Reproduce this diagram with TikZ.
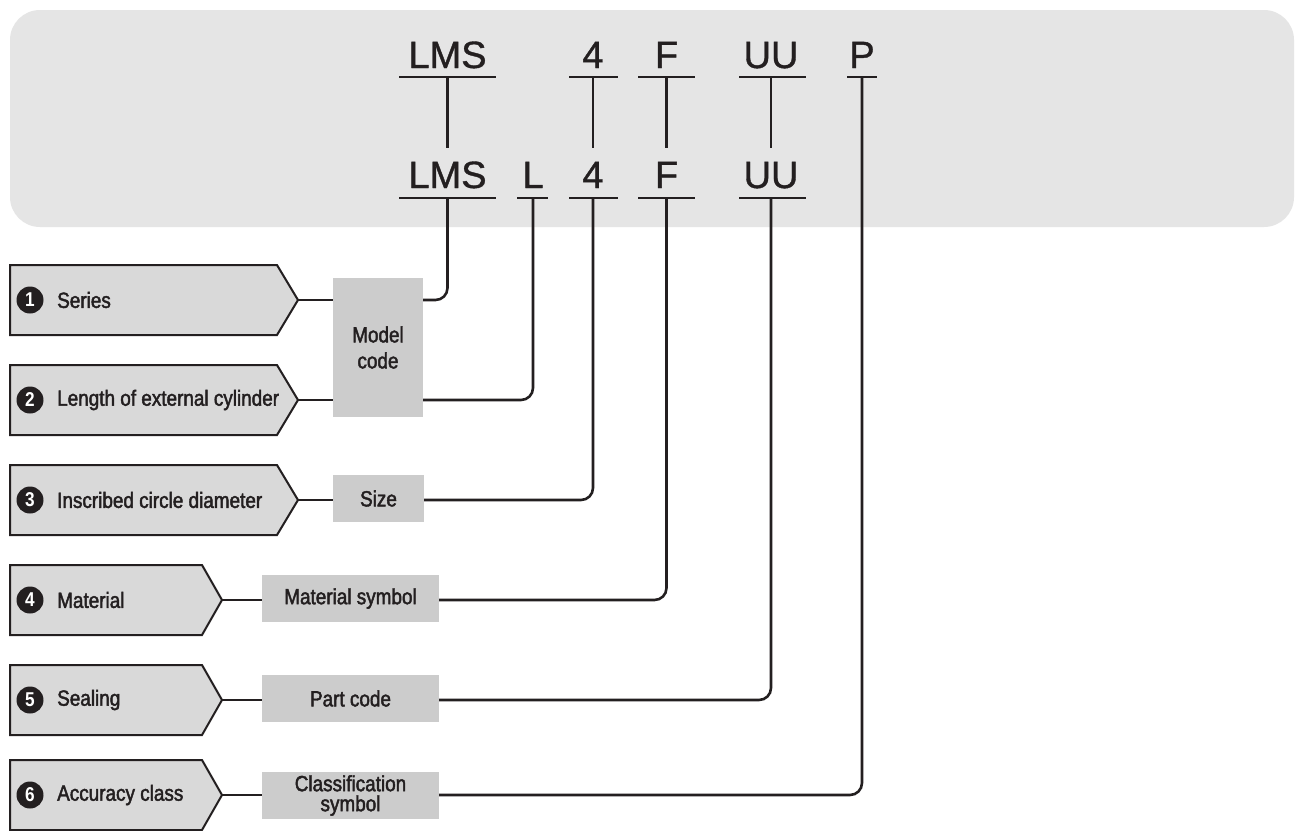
\documentclass[tikz,border=0pt]{standalone}
\usepackage{fontspec}
\setmainfont{Liberation Sans}[FakeBold=1]
\newfontfamily\condf{Liberation Sans}[FakeStretch=0.86,FakeBold=2]
\newfontfamily\numf{Liberation Sans Bold}[FakeStretch=0.86]
\definecolor{ink}{HTML}{231F20}
\definecolor{panel}{HTML}{E5E5E5}
\definecolor{penta}{HTML}{D9D9D9}
\definecolor{lbl}{HTML}{CCCCCC}
\tikzset{
  code/.style={anchor=base, inner sep=0pt, text=ink, font=\fontsize{38}{40}\selectfont},
  uline/.style={draw=ink, line width=2.6pt},
  conn/.style={draw=ink, line width=2.6pt, rounded corners=12pt},
  pent/.style={draw=ink, fill=penta, line width=2pt},
  lblbox/.style={fill=lbl, inner sep=0pt, text=ink, align=center, font=\condf\fontsize{22}{26}\selectfont},
  ptext/.style={anchor=west, inner sep=0pt, text=ink, font=\condf\fontsize{22}{26}\selectfont},
  num/.style={circle, fill=ink, minimum size=27pt, inner sep=0pt, text=white, font=\numf\fontsize{20}{20}\selectfont},
}
\begin{document}
\begin{tikzpicture}[x=1pt,y=-1pt]
\clip (0,0) rectangle (1295,830);
\fill[white] (0,0) rectangle (1295,830);
% panel
\fill[panel, rounded corners=30pt] (10,10) rectangle (1294,227);

% upper row codes
\node[code] (uLMS) at (447.5,68) {LMS};
\node[code] (u4) at (593,68) {4};
\node[code] (uF) at (666.5,68) {F};
\node[code] (uUU) at (771,68) {UU};
\node[code] (uP) at (862,68) {P};
% lower row codes
\node[code] (lLMS) at (447.5,188) {LMS};
\node[code] (lL) at (533,188) {L};
\node[code] (l4) at (593,188) {4};
\node[code] (lF) at (666.5,188) {F};
\node[code] (lUU) at (771,188) {UU};

% underlines
\draw[uline] (399,77) -- (496,77);
\draw[uline] (569,77) -- (618,77);
\draw[uline] (638,77) -- (695,77);
\draw[uline] (739,77) -- (806,77);
\draw[uline] (847,77) -- (877,77);
\draw[uline] (399,198) -- (496,198);
\draw[uline] (517,198) -- (548,198);
\draw[uline] (569,198) -- (618,198);
\draw[uline] (638,198) -- (695,198);
\draw[uline] (739,198) -- (806,198);

% coordinates on underlines
\coordinate (aLMS) at (447.5,77);
\coordinate (a4) at (593,77);
\coordinate (aF) at (666.5,77);
\coordinate (aUU) at (771,77);
\coordinate (aP) at (862,77);
\coordinate (bLMS) at (447.5,148);
\coordinate (b4) at (593,148);
\coordinate (bF) at (666.5,148);
\coordinate (bUU) at (771,148);
\coordinate (cLMS) at (447.5,198);
\coordinate (cL) at (533,198);
\coordinate (c4) at (593,198);
\coordinate (cF) at (666.5,198);
\coordinate (cUU) at (771,198);

\draw[conn] (aLMS) -- (bLMS);
\draw[conn] (a4) -- (b4);
\draw[conn] (aF) -- (bF);
\draw[conn] (aUU) -- (bUU);

% pentagons
\draw[pent] (10,265) -- (277,265) -- (298,300) -- (277,335) -- (10,335) -- cycle;
\draw[pent] (10,365) -- (277,365) -- (298,400) -- (277,435) -- (10,435) -- cycle;
\draw[pent] (10,465) -- (277,465) -- (298,500) -- (277,535) -- (10,535) -- cycle;
\draw[pent] (10,565) -- (202,565) -- (222,600) -- (202,635) -- (10,635) -- cycle;
\draw[pent] (10,665) -- (202,665) -- (222,700) -- (202,735) -- (10,735) -- cycle;
\draw[pent] (10,760) -- (202,760) -- (222,795) -- (202,830) -- (10,830) -- cycle;
\coordinate (t1) at (298,300);
\coordinate (t2) at (298,400);
\coordinate (t3) at (298,500);
\coordinate (t4) at (222,600);
\coordinate (t5) at (222,700);
\coordinate (t6) at (222,795);

% numbers and texts
\node[num] (n1) at (30,300) {1};
\node[num] (n2) at (30,400) {2};
\node[num] (n3) at (30,500) {3};
\node[num] (n4) at (30,600) {4};
\node[num] (n5) at (30,700) {5};
\node[num] (n6) at (30,795) {6};
\node[ptext] (p1) at (57,300) {Series};
\node[ptext] (p2) at (57,400) {Length of external cylinder};
\node[ptext] (p3) at (57,500) {Inscribed circle diameter};
\node[ptext] (p4) at (57,600) {Material};
\node[ptext] (p5) at (57,700) {Sealing};
\node[ptext] (p6) at (57,795) {Accuracy class};

% label boxes
\node[lblbox, minimum width=90pt, minimum height=139pt] (mc) at (378,347.5) {Model\\code};
\node[lblbox, minimum width=91pt, minimum height=47pt] (sz) at (378.5,498.5) {Size};
\node[lblbox, minimum width=177pt, minimum height=47pt] (ms) at (350.5,598.5) {Material symbol};
\node[lblbox, minimum width=177pt, minimum height=47pt] (pc) at (350.5,698.5) {Part code};
\node[lblbox, minimum width=177pt, minimum height=47pt, font=\condf\fontsize{22}{20}\selectfont] (cs) at (350.5,795.5) {Classification\\symbol};

% connectors left
\draw[conn] (t1) -- (mc.west |- t1);
\draw[conn] (t2) -- (mc.west |- t2);
\draw[conn] (t3) -- (sz.west |- t3);
\draw[conn] (t4) -- (ms.west |- t4);
\draw[conn] (t5) -- (pc.west |- t5);
\draw[conn] (t6) -- (cs.west |- t6);

% connectors right
\draw[conn] (mc.east |- t1) -| (cLMS);
\draw[conn] (mc.east |- t2) -| (cL);
\draw[conn] (sz.east |- t3) -| (c4);
\draw[conn] (ms.east |- t4) -| (cF);
\draw[conn] (pc.east |- t5) -| (cUU);
\draw[conn] (cs.east |- t6) -| (aP);
\end{tikzpicture}
\end{document}
